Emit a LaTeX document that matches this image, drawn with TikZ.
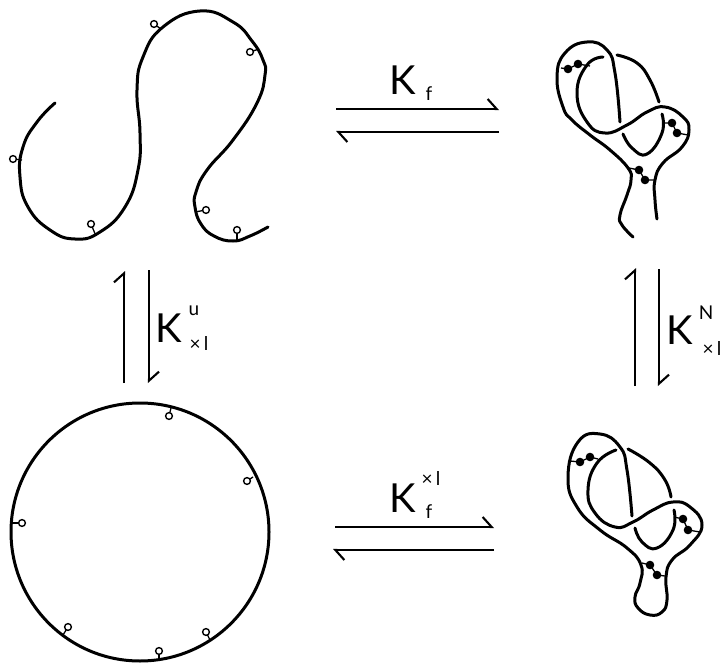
\documentclass[tikz,border=0pt]{standalone}
\usepackage{fontspec}
\usepackage{tikz}
\usetikzlibrary{arrows.meta}
\newfontfamily\thinfont{Lato}
\tikzset{
  strand/.style={line width=3pt,line cap=round,smooth,tension=0.8},
  harp/.style={line width=2.1pt,-{Straight Barb[harpoon,length=9pt,width=20pt,line width=2.1pt]}},
  bigK/.style={inner sep=0pt,font=\thinfont\fontsize{40}{40}\selectfont},
  smalllab/.style={inner sep=0pt,font=\thinfont\fontsize{19}{19}\selectfont},
  stem/.style={line width=1.3pt},
  pin/.style={line width=1.4pt,fill=white},
  bead/.style={fill=black}
}
\begin{document}
\begin{tikzpicture}[x=1pt,y=-1pt]
  \useasboundingbox (0,0) rectangle (720,663);
  \draw[strand] plot coordinates {(55,103) (37,122) (23,147) (20,177) (28,207) (50,230) (75,239) (100,232) (125,207) (138,170) (140,133) (137,90) (143,57) (163,27) (200,11) (233,22) (252,41) (263,60) (265,75) (257,103) (233,140) (207,170) (196,192) (195,207) (201,224) (214,236) (233,241) (250,236) (268,227)};
  \foreach \px/\py/\qx/\qy in {13/159/22/160, 91/224/96/236, 154/24/161/29, 250/52/259/49, 206/210/195/212, 237/230/237/241} {\draw[stem] (\qx,\qy) -- (\px,\py); \draw[pin] (\px,\py) circle (3.4);}
  \draw[line width=3pt] (140,532) circle (129);
  \foreach \px/\py/\qx/\qy in {169/416/171/408, 247/481/253/477, 22/523/12/523, 68/627/63/635, 159/651/159/660, 206/632/210/640} {\draw[stem] (\qx,\qy) -- (\px,\py); \draw[pin] (\px,\py) circle (3.4);}
  \draw[strand] plot coordinates {(633,237) (622,225) (620,215) (627,195) (631,180) (628,168) (610,150) (590,135) (572,120) (563,107) (557,77) (565,53) (587,42) (607,50) (615,73) (620,122)};
  \draw[strand] plot coordinates {(603,57) (587,65) (577,93) (587,122) (605,133) (627,125) (647,112) (665,107) (683,117) (689,130) (682,147) (663,163) (655,180) (655,200) (657,219)};
  \draw[strand] plot coordinates {(617,55) (637,63) (650,80) (659,102)};
  \draw[strand] plot coordinates {(662,114) (662,133) (647,154) (632,148) (623,134)};
  \draw[stem] (561,68) -- (568,69) -- (578,64) -- (590,66); \draw[stem] (663,123) -- (672,123) -- (677,133) -- (688,135); \draw[stem] (629,168) -- (639,170) -- (645,180) -- (655,180);
  \foreach \bx/\by in {568/69, 578/64, 672/123, 677/133, 639/170, 645/180} {\fill[bead] (\bx,\by) circle (4.3);}
  \draw[strand] plot coordinates {(632,516) (627,470) (620,447) (600,434) (578,442) (568,477) (577,507) (600,530) (627,548) (641,565) (640,583) (635,597) (638,608) (650,615) (662,612) (667,600) (666,577) (672,560) (690,545) (702,525) (690,507) (673,502) (653,510) (633,522) (615,527) (595,513) (588,490) (597,463) (616,450)};
  \draw[strand] plot coordinates {(628,449) (650,463) (665,480) (671,497)};
  \draw[strand] plot coordinates {(674,510) (673,530) (657,548) (642,542) (635,528)};
  \draw[stem] (570,461) -- (580,462) -- (590,457) -- (598,459); \draw[stem] (674,517) -- (683,519) -- (688,530) -- (700,532); \draw[stem] (642,563) -- (650,565) -- (657,575) -- (665,576);
  \foreach \bx/\by in {580/462, 590/457, 683/519, 688/530, 650/565, 657/575} {\fill[bead] (\bx,\by) circle (4.3);}
  \coordinate (topa) at (336,109); \coordinate (topb) at (499,109); \coordinate (topc) at (499,132); \coordinate (topd) at (336,132);
  \coordinate (bota) at (335,527); \coordinate (botb) at (494,527); \coordinate (botc) at (494,550); \coordinate (botd) at (333,550);
  \coordinate (lefa) at (124,383); \coordinate (lefb) at (124,271); \coordinate (lefc) at (149,270); \coordinate (lefd) at (149,383);
  \coordinate (riga) at (635,386); \coordinate (rigb) at (635,268); \coordinate (rigc) at (659,269); \coordinate (rigd) at (659,386);
  \draw[harp] (topa) -- (topb); \draw[harp] (topc) -- (topd); \draw[harp] (bota) -- (botb); \draw[harp] (botc) -- (botd);
  \draw[harp] (lefa) -- (lefb); \draw[harp] (lefc) -- (lefd); \draw[harp] (riga) -- (rigb); \draw[harp] (rigc) -- (rigd);
  \node[bigK] (kf) at (403,80) {K}; \node[smalllab] (kfsub) at (429,94) {f};
  \node[bigK] (kx) at (403,498) {K}; \node[smalllab] (kxsup) at (431,479) {×\,l}; \node[smalllab] (kxsub) at (429,512) {f};
  \node[bigK] (ku) at (169,328) {K}; \node[smalllab] (kusup) at (194,311) {u}; \node[smalllab] (kusub) at (199,344) {×\,l};
  \node[bigK] (kn) at (680,330) {K}; \node[smalllab] (knsup) at (706,313) {N}; \node[smalllab] (knsub) at (712,349) {×\,l};
\end{tikzpicture}
\end{document}
